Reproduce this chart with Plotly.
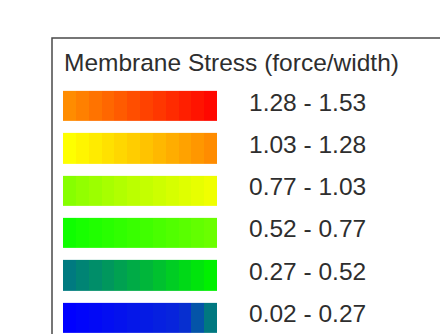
import plotly.graph_objects as go

# ---- data ----
title_text = "Membrane Stress (force/width)"
class_labels = ["0.02 - 0.27", "0.27 - 0.52", "0.52 - 0.77",
                "0.77 - 1.03", "1.03 - 1.28", "1.28 - 1.53"]  # bottom -> top
left_colors = ["#0000FF", "#007A80", "#10FF00", "#88FF00", "#FFFF00", "#FF8C00"]
mid_colors = ["#0828D8", "#00B040", "#3CFF00", "#C0FF00", "#FFC800", "#FF4800"]
right_colors = ["#007880", "#00F000", "#6AFF00", "#F0FF00", "#FF8C00", "#FF0800"]
n_bands = 12

# ---- build heatmap ----
n_rows = len(class_labels)
z = [[r + 0.99 * c / (n_bands - 1) for c in range(n_bands)] for r in range(n_rows)]
colorscale = []
eps = 1e-4
for r in range(n_rows):
    a = r / n_rows
    b = (r + 0.99) / n_rows
    colorscale.append([a + (eps if r else 0), left_colors[r]])
    colorscale.append([(a + b) / 2 if r != 0 else a + 0.8 * (b - a), mid_colors[r]])
    colorscale.append([b, right_colors[r]])
colorscale.append([1.0, right_colors[-1]])

W, H = 440, 334
fig = go.Figure(go.Heatmap(
    z=z, x=list(range(n_bands)), y=list(range(n_rows)),
    colorscale=colorscale, zmin=0, zmax=n_rows, showscale=False,
    ygap=12, xgap=0, hoverinfo="skip"))

# pixel geometry
sw_x0, sw_x1 = 63, 217
row_top_center, row_bot_center = 106, 317.5
pitch = (row_bot_center - row_top_center) / (n_rows - 1)
y_lo = 0 - (H - row_bot_center) / pitch
y_hi = (n_rows - 1) + row_top_center / pitch

fig.update_xaxes(domain=[sw_x0 / W, sw_x1 / W], range=[-0.5, n_bands - 0.5],
                 visible=False, fixedrange=True)
fig.update_yaxes(domain=[0, 1], range=[y_lo, y_hi], visible=False, fixedrange=True)

font = dict(family="Liberation Sans, Arial, sans-serif", size=24.5, color="#2e2e2e")
for r, lab in enumerate(class_labels):
    fig.add_annotation(x=247 / W, xref="paper", y=r, yref="y", text=lab,
                       showarrow=False, xanchor="left", yanchor="middle",
                       yshift=4, font=font)
fig.add_annotation(x=62 / W, xref="paper", y=(H - 63) / H, yref="paper",
                   text=title_text, showarrow=False, xanchor="left",
                   yanchor="middle", font=font)

fig.add_shape(type="rect", xref="paper", yref="paper",
              x0=52 / W, x1=1.3, y0=-0.3, y1=(H - 38) / H,
              line=dict(color="#4a4a4a", width=1.5), fillcolor="rgba(0,0,0,0)")

fig.update_layout(width=W, height=H, margin=dict(l=0, r=0, t=0, b=0),
                  paper_bgcolor="white", plot_bgcolor="white", showlegend=False)
fig.write_html("out.html", config={"displayModeBar": False},
               post_script="document.body.style.margin='0';document.body.style.overflow='hidden';")
